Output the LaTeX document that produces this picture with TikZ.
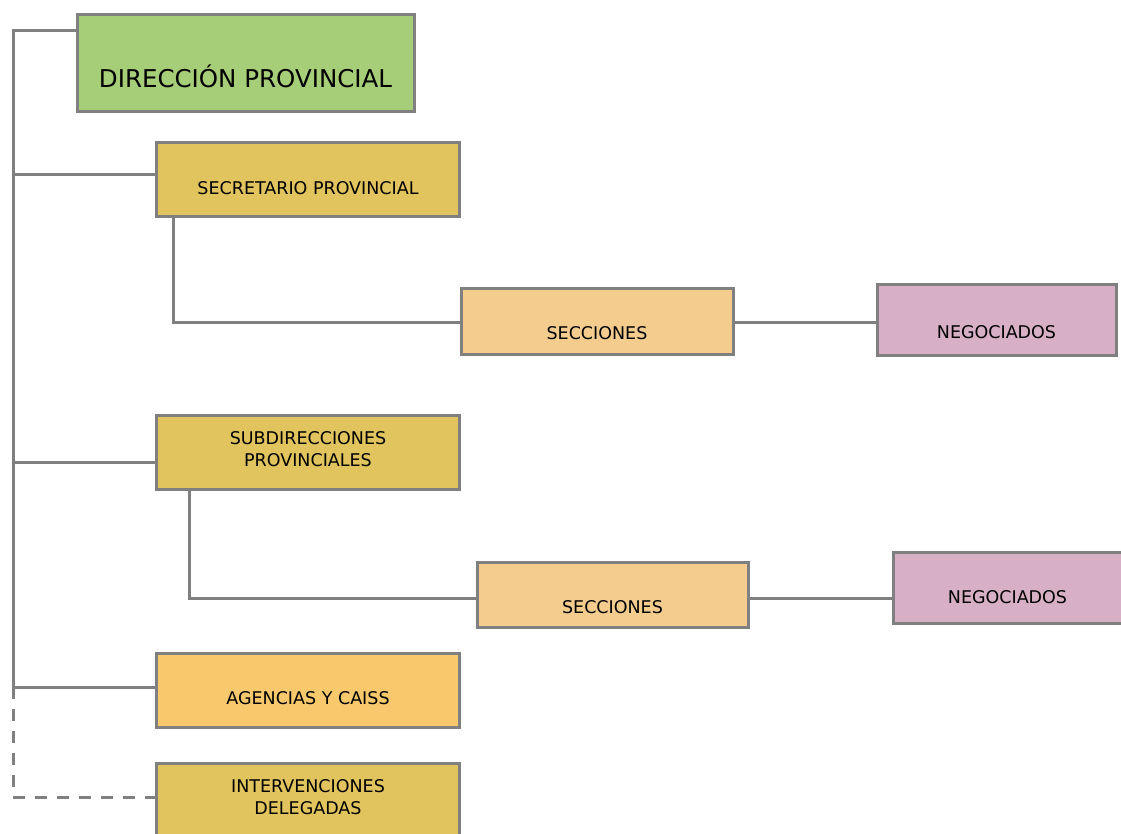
\documentclass[tikz,border=0pt]{standalone}
\usepackage{fontspec}
\setmainfont{DejaVu Sans}
\usepackage{xcolor}
\usepackage{tikz}
\usetikzlibrary{positioning}

\definecolor{gris}{RGB}{128,128,128}
\definecolor{verde}{RGB}{166,206,120}
\definecolor{amarillo}{RGB}{226,196,94}
\definecolor{naranja}{RGB}{243,204,142}
\definecolor{rosa}{RGB}{215,176,198}
\definecolor{melon}{RGB}{247,201,108}

\begin{document}
\begin{tikzpicture}[
		    x=1pt, y=-1pt,
		    every node/.style={inner sep=0pt, font=\fontsize{17.5}{22}\selectfont, align=center},
		    linea/.style={draw=gris, line width=3pt},
		    caja/.style={draw=gris, line width=3pt, rectangle, minimum width=303pt, minimum height=74pt}
		]
		\tikzset{
		    cverde/.style={caja, fill=verde},
		    camarillo/.style={caja, fill=amarillo},
		    cnaranja/.style={caja, fill=naranja, minimum width=272pt, minimum height=66pt},
		    crosa/.style={caja, fill=rosa, minimum height=71pt},
		    cmelon/.style={caja, fill=melon},
		    guiones/.style={linea, dash pattern=on 12pt off 10pt}
		}
		\useasboundingbox (0,0) rectangle (1121,834);

		% cajas
		\node[cverde, minimum width=337pt, minimum height=97pt] (dir) at (245.5,63.5) {};
		\node[camarillo] (secr) at (308,179.5) {};
		\node[cnaranja] (secc1) at (597,321) {};
		\node[crosa, minimum width=239pt] (neg1) at (996.5,320) {};
		\node[camarillo] (subd) at (308,452) {};
		\node[cnaranja, minimum width=271pt, minimum height=65pt] (secc2) at (612.5,594.5) {};
		\node[crosa, minimum width=229pt] (neg2) at (1007.5,587.5) {};
		\node[cmelon] (agen) at (308,690) {};
		\node[camarillo] (interv) at (308,800) {};

		% textos
		\node[font=\fontsize{24.5}{28}\selectfont] (tdir) at ([yshift=-13pt]dir.center) {DIRECCIÓN PROVINCIAL};
		\node (tsecr) at ([yshift=-9pt]secr.center) {SECRETARIO PROVINCIAL};
		\node (tsecc1) at ([yshift=-12.5pt]secc1.center) {SECCIONES};
		\node (tneg1) at ([yshift=-12.5pt]neg1.center) {NEGOCIADOS};
		\node (tsubd) at ([yshift=2.5pt]subd.center) {SUBDIRECCIONES\\PROVINCIALES};
		\node (tsecc2) at ([yshift=-12.5pt]secc2.center) {SECCIONES};
		\node (tneg2) at ([yshift=-10pt]neg2.center) {NEGOCIADOS};
		\node (tagen) at ([yshift=-8.5pt]agen.center) {AGENCIAS Y CAISS};
		\node (tinterv) at ([yshift=3pt]interv.center) {INTERVENCIONES\\DELEGADAS};

		% uniones
		\coordinate (c0) at (13,31);
		\coordinate (c1) at (13,175);
		\coordinate (c2) at (13,462);
		\coordinate (c3) at (13,687);
		\coordinate (c4) at (13,797);
		\coordinate (r1) at (173,322);
		\coordinate (r2) at (189,598);

		\draw[linea] (dir.west |- c0) -- (c0) -- (c3);
		\draw[linea] (c1) -- (c1 -| secr.west);
		\draw[linea] (c2) -- (c2 -| subd.west);
		\draw[linea] (c3) -- (c3 -| agen.west);
		\draw[guiones] (c3) -- (c4) -- (c4 -| interv.west);

		\draw[linea] (r1 |- secr.south) -- (r1) -- (r1 -| secc1.west);
		\draw[linea] (secc1.east |- r1) -- (r1 -| neg1.west);
		\draw[linea] (r2 |- subd.south) -- (r2) -- (r2 -| secc2.west);
		\draw[linea] (secc2.east |- r2) -- (r2 -| neg2.west);
\end{tikzpicture}
\end{document}
